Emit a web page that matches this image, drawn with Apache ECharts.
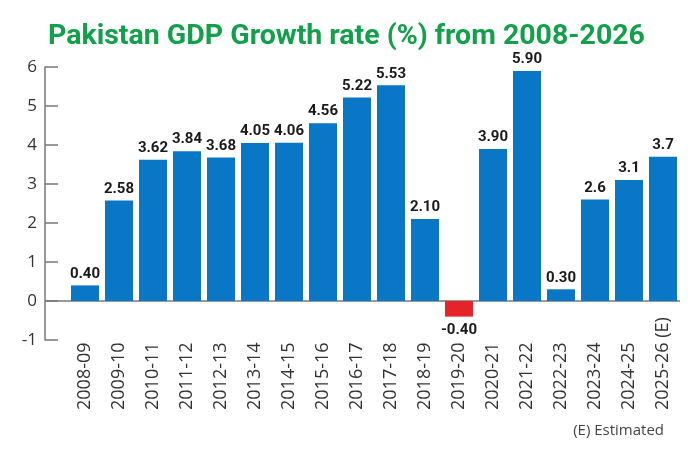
<!DOCTYPE html>
<html lang="en">
<head>
  <meta charset="UTF-8">
  <style>
    body { margin: 0; }
    #chart { width: 700px; height: 449px; }
  </style>
  <title>Pakistan GDP Growth</title>
</head>
<body>
  <div id="chart"></div>
  <script src="https://cdn.jsdelivr.net/npm/echarts@6/dist/echarts.min.js"></script>
  <script>
    var years = ['2008-09', '2009-10', '2010-11', '2011-12', '2012-13', '2013-14', '2014-15', '2015-16', '2016-17',
      '2017-18', '2018-19', '2019-20', '2020-21', '2021-22', '2022-23', '2023-24', '2024-25', '2025-26 (E)']
    var growth = [0.40, 2.58, 3.62, 3.84, 3.68, 4.05, 4.06, 4.56, 5.22, 5.53, 2.10, -0.40, 3.90, 5.90, 0.30, 2.6, 3.1, 3.7]
    var growthText = ['0.40', '2.58', '3.62', '3.84', '3.68', '4.05', '4.06', '4.56', '5.22', '5.53', '2.10', '-0.40',
      '3.90', '5.90', '0.30', '2.6', '3.1', '3.7']

    var BLUE = '#0a76c6'
    var RED = '#e5232a'
    var gridLeft = 68, axisOffset = 23

    var barData = growth.map(function (v, i) {
      var item = { value: v, itemStyle: { color: v < 0 ? RED : BLUE } }
      if (v < 0) item.label = { position: 'bottom', distance: 6 }
      return item
    })

    var chart = echarts.init(document.getElementById('chart'))
    var option = {
      animation: false,
      backgroundColor: '#fff',
      title: [
        {
          text: 'Pakistan GDP Growth rate (%) from 2008-2026',
          left: 43,
          top: 17,
          textStyle: {
            color: '#12a04b',
            fontSize: 28.5,
            fontWeight: 'bold',
            fontFamily: 'Roboto, sans-serif'
          }
        },
        {
          text: '(E) Estimated',
          right: 31,
          top: 418,
          textStyle: { color: '#444', fontSize: 15, fontWeight: 'normal', fontFamily: 'Open Sans, sans-serif' }
        }
      ],
      grid: { left: gridLeft, right: 20, top: 67, bottom: 109 },
      xAxis: {
        type: 'category',
        data: years,
        axisLine: { show: false },
        axisTick: { show: false },
        axisLabel: {
          rotate: 90,
          align: 'left',
          margin: 70,
          interval: 0,
          color: '#333',
          fontSize: 18,
          fontFamily: 'Open Sans, sans-serif'
        }
      },
      yAxis: {
        type: 'value',
        min: -1,
        max: 6,
        interval: 1,
        offset: axisOffset,
        axisLine: { show: true, lineStyle: { color: '#777', width: 1.5 } },
        axisTick: { show: true, inside: true, length: 13, lineStyle: { color: '#777', width: 1.5 } },
        splitLine: { show: false },
        axisLabel: { margin: 8, color: '#333', fontSize: 17, fontFamily: 'Open Sans, sans-serif' }
      },
      series: [{
        type: 'bar',
        data: barData,
        barWidth: 28,
        label: {
          show: true,
          position: 'top',
          distance: 4,
          color: '#1a1a1a',
          fontSize: 15,
          fontWeight: 'bold',
          fontFamily: 'Roboto, sans-serif',
          formatter: function (p) { return growthText[p.dataIndex] }
        }
      }]
    }
    chart.setOption(option)

    // zero line runs from the y axis across the plot
    var y0 = chart.convertToPixel({ yAxisIndex: 0 }, 0)
    chart.setOption({
      graphic: [{
        type: 'line',
        z: 0,
        shape: { x1: gridLeft - axisOffset, y1: y0, x2: 700 - 20, y2: y0 },
        style: { stroke: '#777', lineWidth: 1.5 }
      }]
    })
  </script>
</body>
</html>
